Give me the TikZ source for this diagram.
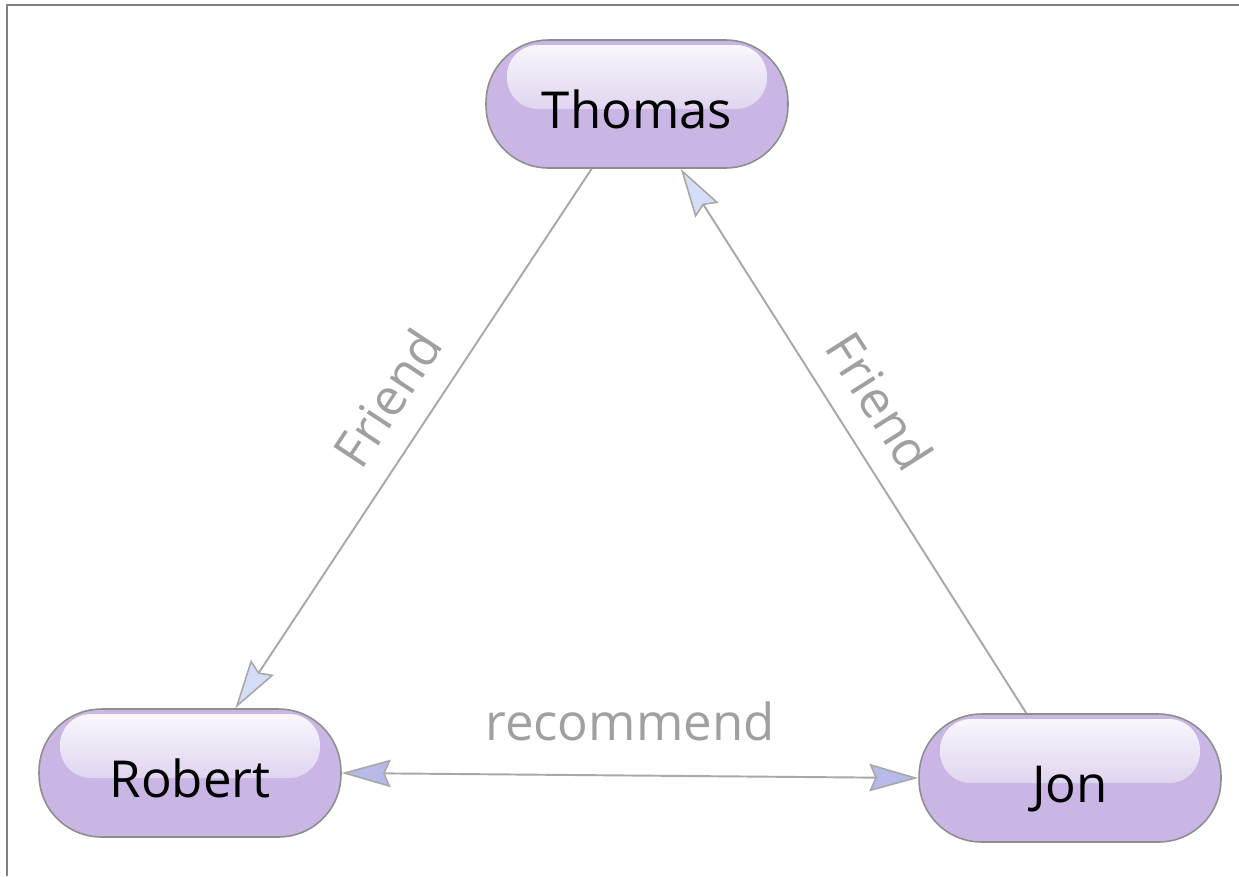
\documentclass[tikz,border=0pt]{standalone}
\usepackage{fontspec}
\setmainfont{Open Sans}
\usetikzlibrary{arrows.meta,calc}

\definecolor{personfill}{HTML}{C9B6E4}
\definecolor{personline}{HTML}{8E8E8E}
\definecolor{relline}{HTML}{A8A8A8}
\definecolor{friendtip}{HTML}{D6DDF8}
\definecolor{recotip}{HTML}{B6BAE8}
\definecolor{reltext}{HTML}{A0A0A0}

\tikzset{
    person/.style={draw=personline, line width=0.9pt, fill=personfill,
        rounded corners=1.25cm, minimum width=6.04cm, minimum height=2.56cm,
        font=\fontsize{29}{34}\selectfont, text=black,
        text height=1cm, text depth=0.04cm,
        path picture={
            \fill[top color=white!92!personfill, bottom color=personfill, rounded corners=0.62cm]
                ($(path picture bounding box.north west)+(0.42cm,-0.1cm)$) rectangle
                ($(path picture bounding box.east)+(-0.42cm,-0.1cm)$);
        }},
    rel/.style={draw=relline, line width=1.1pt},
    friendarrow/.tip={Stealth[length=0.98cm, width=0.55cm, inset=0.12cm, fill=friendtip, line width=0.9pt]},
    recoarrow/.tip={Stealth[length=0.98cm, width=0.55cm, inset=0.12cm, fill=recotip, line width=0.9pt]},
    rellabel/.style={text=reltext, font=\fontsize{29}{34}\selectfont}
}

\begin{document}
\begin{tikzpicture}[x=0.02cm, y=-0.02cm]
    \useasboundingbox (0,0) rectangle (1239,876);
    \draw[gray, line width=1pt] (7,876) -- (7,5) -- (1239,5);

    \node[person] (thomas) at (637,104) {Thomas};
    \node[person] (robert) at (190,773) {Robert};
    \node[person] (jon) at (1070,778) {Jon};

    \draw[rel, -friendarrow] (thomas.235) -- (robert.55)
        node[rellabel, pos=0.47, sloped, above=10pt] {Friend};
    \draw[rel, -friendarrow] (jon.124) -- (thomas.-56)
        node[rellabel, pos=0.53, sloped, above=10pt] {Friend};
    \draw[rel, recoarrow-recoarrow] (robert.east) -- (jon.west)
        node[rellabel, midway, above=16pt] {recommend};
\end{tikzpicture}
\end{document}
